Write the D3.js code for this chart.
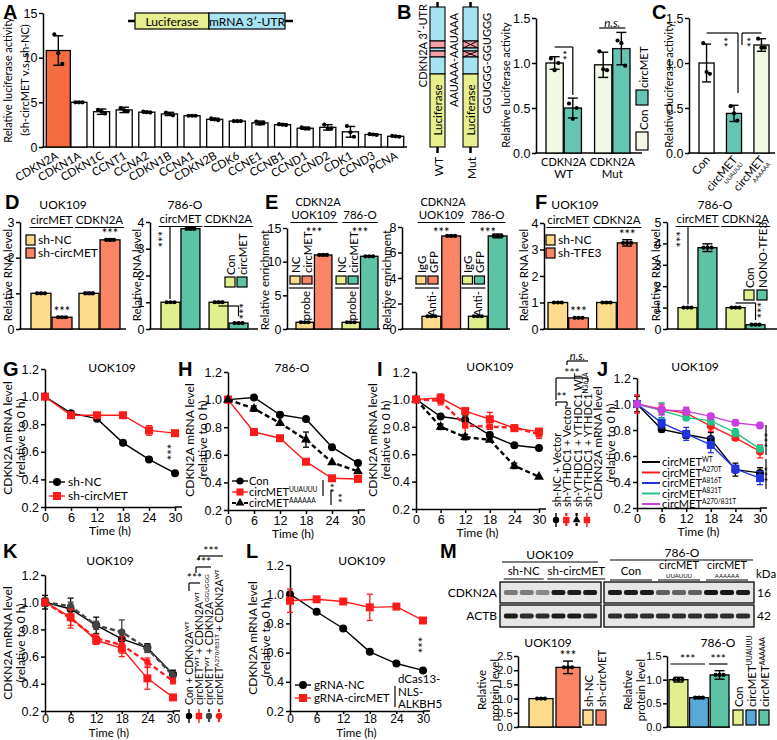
<!DOCTYPE html>
<html>
<head>
<meta charset="utf-8">
<script src="https://cdnjs.cloudflare.com/ajax/libs/d3/7.8.5/d3.min.js"></script>
<style>
body { margin: 0; background: #fff; }
svg { font-family: Lato, "Open Sans", sans-serif; }
</style>
</head>
<body>
<script>
// ---------- data ----------
const aGenes = ["CDKN2A","CDKN1A","CDKN1C","CCNT1","CCNA2","CDKN1B","CCNA1","CDKN2B","CDK6","CCNE1","CCNB1","CCND1","CCND2","CDK1","CCND3","PCNA"];
const aMeans = [10.8,5.0,3.95,4.15,3.9,3.7,3.5,3.1,2.9,2.7,2.5,2.1,2.2,1.7,1.4,1.2];
const aErr = [1.65,0.05,0.3,0.3,0.08,0.18,0.05,0.12,0.06,0.2,0.08,0.12,0.3,0.6,0.06,0.05];
const aReps = [[12.6,10.5,9.3],[5.0,5.0,5.0],[4.15,3.95,3.75],[4.35,4.1,4.0],[3.95,3.9,3.85],[3.85,3.7,3.55],[3.5,3.5,3.5],[3.2,3.1,3.0],[2.9,2.9,2.9],[2.85,2.6,2.7],[2.55,2.5,2.45],[2.2,2.05,2.05],[2.5,2.05,2.1],[2.35,1.65,1.15],[1.45,1.4,1.35],[1.25,1.2,1.15]];

const bGroups = ["WT","Mut"];
const bCon = [1.0,0.98], bConErr = [0.07,0.14], bConReps = [[1.05,0.92,1.0],[1.13,0.93,0.92]];
const bCirc = [0.5,1.16], bCircErr = [0.11,0.18], bCircReps = [[0.55,0.38,0.5],[1.25,1.22,0.97]];

const cLabels = ["Con","UUAUUU","AAAAAA"];
const cMeans = [1.0,0.44,1.2], cErr = [0.21,0.09,0.07];
const cReps = [[1.22,0.9,0.88],[0.52,0.44,0.36],[1.27,1.17,1.17]];

const dGroups = ["circMET","CDKN2A"];
const dShNC = [1.0,1.0], dShNCErr = [0.02,0.03];
const dShCirc = [0.33,2.5], dShCircErr = [0.02,0.03];
const dCon = [1.0,1.0], dConErr = [0.02,0.03];
const dCirc = [3.75,0.22], dCircErr = [0.04,0.02];

const eGroups = ["UOK109","786-O"];
const eNC = [1.0,1.0], eNCErr = [0.06,0.06];
const eCirc = [11.0,10.8], eCircErr = [0.12,0.08];
const eIgG = [1.0,1.0], eIgGErr = [0.05,0.04];
const eGFP = [7.3,7.3], eGFPErr = [0.05,0.15];

const fShNC = [1.0,1.0], fShNCErr = [0.02,0.02];
const fShTFE3 = [0.42,3.25], fShTFE3Err = [0.02,0.12];
const fCon = [1.0,1.0], fConErr = [0.02,0.03];
const fNONO = [3.8,0.2], fNONOErr = [0.18,0.02];

const times = [0,6,12,18,24,30];
const gNC = [1.0,0.88,0.84,0.665,0.545,0.445], gNCErr = [0,0.01,0.01,0.01,0.015,0.01];
const gCirc = [1.0,0.865,0.865,0.865,0.755,0.735], gCircErr = [0,0.015,0.01,0.01,0.035,0.015];

const hCon = [1.0,1.015,0.89,0.86,0.655,0.54], hConErr = [0,0.01,0.01,0.01,0.01,0.01];
const hUU = [1.0,0.765,0.72,0.55,0.43,0.425], hUUErr = [0,0.01,0.01,0.01,0.01,0.01];
const hAA = [1.0,0.935,0.83,0.71,0.545,0.48], hAAErr = [0,0.02,0.01,0.055,0.01,0.01];

const iNC = [1.0,0.875,0.85,0.74,0.665,0.645], iNCErr = [0.01,0.01,0.03,0.02,0.01,0.01];
const iYMut = [1.0,0.99,0.81,0.80,0.795,0.745], iYMutErr = [0.01,0.03,0.08,0.01,0.01,0.03];
const iShVec = [1.0,0.80,0.725,0.705,0.515,0.435], iShVecErr = [0.01,0.02,0.02,0.01,0.02,0.01];
const iYWT = [1.0,1.01,0.915,0.855,0.79,0.765], iYWTErr = [0.01,0.03,0.01,0.05,0.01,0.02];

const jWT = [1.0,0.805,0.765,0.73,0.495,0.47], jWTErr = [0.06,0.02,0.03,0.05,0.05,0.04];
const jA270 = [1.0,0.96,0.93,0.83,0.74,0.635], jA270Err = [0.07,0.04,0.04,0.04,0.02,0.05];
const jA816 = [1.0,0.855,0.77,0.685,0.50,0.43], jA816Err = [0.01,0.04,0.05,0.06,0.03,0.05];
const jA831 = [1.0,0.95,0.895,0.87,0.78,0.655], jA831Err = [0.01,0.06,0.02,0.03,0.03,0.02];
const jA270831 = [1.0,0.955,0.945,0.905,0.855,0.835], jA270831Err = [0.01,0.04,0.03,0.02,0.02,0.01];

const kCon = [1.0,0.95,0.83,0.73,0.665,0.47], kConErr = [0.05,0.08,0.06,0.05,0.03,0.03];
const kCirc = [1.0,0.89,0.72,0.66,0.44,0.30], kCircErr = [0.03,0.06,0.03,0.06,0.08,0.01];
const kGG = [1.0,0.97,0.83,0.78,0.66,0.46], kGGErr = [0.03,0.03,0.03,0.09,0.03,0.03];
const kA270 = [1.0,0.88,0.735,0.685,0.56,0.42], kA270Err = [0.02,0.07,0.03,0.06,0.03,0.02];

const lNC = [1.0,0.88,0.765,0.605,0.525,0.478], lNCErr = [0.01,0.01,0.01,0.01,0.01,0.01];
const lCirc = [0.955,0.965,0.95,0.91,0.915,0.82], lCircErr = [0.08,0.01,0.01,0.09,0.01,0.01];

const mUokLabels = ["sh-NC","sh-circMET"];
const mUok = [1.0,2.1], mUokErr = [0.02,0.22];
const m786Labels = ["Con","UUAUUU","AAAAAA"];
const m786 = [1.0,0.62,1.1], m786Err = [0.05,0.02,0.09];
const blotCdkn2aUok = [0.6,0.6,0.55,0.9,0.9,0.9];
const blotActbUok = [0.9,0.85,0.85,0.9,0.9,0.85];
const blotCdkn2a786 = [0.9,0.9,0.9,0.7,0.68,0.7,0.92,0.92,0.9];
const blotActb786 = [0.85,0.85,0.85,0.85,0.85,0.85,0.85,0.85,0.85];

// ---------- colours ----------
const cOrange = "#f36b3f", cShNC = "#fddb8c", cShCirc = "#fa8566", cCon = "#e2ef8e",
      cTeal = "#5ec2a5", cLight = "#f1f8e6", cTealB = "#66c4b3", cBlue = "#58a9d6",
      cLucY = "#e6ee8e", cUtr = "#a8e3f4", cPink = "#f6a0a8", RED = "#ff1a1a";

const svg = d3.select("body").append("svg").attr("width", 777).attr("height", 740);
svg.append("defs").append("filter").attr("id", "blur")
  .append("feGaussianBlur").attr("stdDeviation", 0.7);

const PL = {size: 20, bold: true, family: "'Liberation Sans', Arial, sans-serif"};
const FS = 11.5;   // general label size
const TS = 12;     // tick size

function T(x, y, s, o = {}) {
  const t = svg.append("text").attr("x", x).attr("y", y).text(s)
    .attr("font-size", o.size || FS).attr("text-anchor", o.anchor || "start");
  if (o.rot != null) t.attr("transform", `rotate(${o.rot},${x},${y})`);
  if (o.bold) t.attr("font-weight", "bold");
  if (o.italic) t.attr("font-style", "italic");
  if (o.family) t.attr("font-family", o.family);
  if (o.fill) t.attr("fill", o.fill);
  return t;
}
function rich(x, y, parts, o = {}) {
  const size = o.size || FS;
  const t = svg.append("text").attr("x", x).attr("y", y).attr("font-size", size)
    .attr("text-anchor", o.anchor || "start");
  if (o.rot != null) t.attr("transform", `rotate(${o.rot},${x},${y})`);
  let shift = 0;
  parts.forEach(p => {
    const sp = t.append("tspan");
    let target = 0;
    if (typeof p === "string") sp.text(p);
    else {
      sp.text(p.sup || p.sub).attr("font-size", size * 0.6);
      target = p.sup ? -size * 0.38 : size * 0.22;
    }
    if (target !== shift) sp.attr("dy", target - shift);
    shift = target;
  });
  return t;
}
function L(x1, y1, x2, y2, w = 1.3, c = "#000", dash = null) {
  return svg.append("line").attr("x1", x1).attr("y1", y1).attr("x2", x2).attr("y2", y2)
    .attr("stroke", c).attr("stroke-width", w).attr("stroke-dasharray", dash);
}
function R(x, y, w, h, fill, sw = 1.2) {
  return svg.append("rect").attr("x", x).attr("y", y).attr("width", w).attr("height", h)
    .attr("fill", fill).attr("stroke", "#000").attr("stroke-width", sw);
}
function styleAxis(g, size) {
  g.select(".domain").attr("stroke-width", 1.5);
  g.selectAll(".tick line").attr("stroke-width", 1.5);
  g.selectAll(".tick text").attr("font-size", size || TS).attr("font-family", null);
}
function yAxis(x0, y, ticks, fmt, xEnd, size) {
  const g = svg.append("g").attr("transform", `translate(${x0},0)`)
    .call(d3.axisLeft(y).tickValues(ticks).tickFormat(fmt).tickSize(4).tickSizeOuter(0).tickPadding(1.5));
  styleAxis(g, size);
  if (xEnd) L(x0 - 0.75, y(0), xEnd, y(0), 1.5);
  return g;
}
function drawBars(y, items) {
  items.forEach(d => R(d.x, y(d.v), d.w, y(0) - y(d.v), d.fill, 1.3));
  items.forEach(d => {
    const cx = d.x + d.w / 2, cw = Math.min(d.w * 0.3, 5);
    if (d.e) {
      L(cx, y(d.v - d.e), cx, y(d.v + d.e), 1.4);
      L(cx - cw, y(d.v + d.e), cx + cw, y(d.v + d.e), 1.4);
      L(cx - cw, y(d.v - d.e), cx + cw, y(d.v - d.e), 1.4);
    }
    const reps = d.reps || [d.v, d.v, d.v];
    const off = Math.min(d.w * 0.22, 4);
    reps.forEach((r, i) => svg.append("circle").attr("cx", cx + (i - 1) * off).attr("cy", y(r))
      .attr("r", 2.1).attr("fill", "#000"));
  });
}
function grouped(y, groups, vals, errs, fills, range, pi, reps) {
  const outer = d3.scaleBand().domain(groups).range(range).paddingInner(pi);
  const inner = d3.scaleBand().domain(d3.range(vals.length)).range([0, outer.bandwidth()]).paddingInner(0.05);
  const items = [];
  groups.forEach((g, gi) => vals.forEach((v, si) => items.push({
    x: outer(g) + inner(si), w: inner.bandwidth(), v: v[gi], e: errs[si][gi],
    fill: typeof fills === "function" ? fills(gi, si) : fills[si],
    reps: reps ? reps[si][gi] : null })));
  drawBars(y, items);
  items.forEach(d => d.cx = d.x + d.w / 2);
  return {items, center: g => outer(g) + outer.bandwidth() / 2};
}
function underlined(x, y, s, size = FS, ext = 2) {
  const t = T(x, y, s, {anchor: "middle", size});
  const w = t.node().getComputedTextLength();
  L(x - w / 2 - ext, y + 3.5, x + w / 2 + ext, y + 3.5, 1.2);
  return t;
}
function marker(cx, cy, type, color, s = 1) {
  if (type === "circle") svg.append("circle").attr("cx", cx).attr("cy", cy).attr("r", 4 * s).attr("fill", color);
  else if (type === "square") svg.append("rect").attr("x", cx - 4 * s).attr("y", cy - 4 * s)
    .attr("width", 8 * s).attr("height", 8 * s).attr("fill", color);
  else if (type === "tri") svg.append("path").attr("d", d3.symbol(d3.symbolTriangle, 42 * s * s)())
    .attr("transform", `translate(${cx},${cy})`).attr("fill", color);
}
function lineChart(o) {
  const x = d3.scaleLinear().domain([0, 30]).range([o.x0, o.x1]);
  const y = d3.scaleLinear().domain([0.2, 1.2]).range([o.yb, o.yt]);
  const gx = svg.append("g").attr("transform", `translate(0,${o.yb})`)
    .call(d3.axisBottom(x).tickValues(times).tickSize(o.ts || 4).tickSizeOuter(0).tickPadding(o.tp != null ? o.tp : 2));
  styleAxis(gx, o.tf || 12.5);
  L(o.x1, o.yb, o.x1 + 7, o.yb, 1.5);
  const gy = svg.append("g").attr("transform", `translate(${o.x0},0)`)
    .call(d3.axisLeft(y).tickValues([0.2,0.4,0.6,0.8,1.0,1.2]).tickFormat(d3.format(".1f"))
      .tickSize(4).tickSizeOuter(0).tickPadding(2));
  styleAxis(gy, 12.5);
  T((o.x0 + o.x1) / 2, o.yb + (o.tl || 28), "Time (h)", {anchor: "middle", size: o.tf ? 11.5 : 12});
  o.series.forEach(s => {
    const line = d3.line().x((d, i) => x(times[i])).y(d => y(d));
    svg.append("path").attr("d", line(s.v)).attr("fill", "none").attr("stroke", s.c)
      .attr("stroke-width", s.dash ? 2.4 : 1.4).attr("stroke-dasharray", s.dash ? "5,3" : null);
    s.v.forEach((v, i) => {
      const e = s.e[i];
      if (e > 0.012) {
        const cx = x(times[i]);
        L(cx, y(v - e), cx, y(v + e), 1.3, s.c);
        L(cx - 3, y(v + e), cx + 3, y(v + e), 1.3, s.c);
        L(cx - 3, y(v - e), cx + 3, y(v - e), 1.3, s.c);
      }
      marker(x(times[i]), y(v), s.m, s.c, s.ms || 1);
    });
  });
  return {x, y};
}
function yLabel2(x1, x2, yc, a, b, size = 12) {
  T(x1, yc, a, {rot: -90, anchor: "middle", size});
  if (b) T(x2, yc, b, {rot: -90, anchor: "middle", size});
}
function legendSwatch(x, y, series, size = 1) {
  L(x - 8, y, x + 8, y, series.dash ? 2.2 : 1.4, series.c, series.dash ? "4,2" : null);
  marker(x, y, series.m, series.c, size);
}
function vLegendSwatch(x, y, series, size = 0.8) {
  L(x, y - 7, x, y + 7, series.dash ? 2.2 : 1.4, series.c, series.dash ? "3,2" : null);
  marker(x, y, series.m, series.c, size);
}
function bracket(x1, x2, y, label, o = {}) {
  L(x1, y, x2, y, 1.2);
  if (o.left) L(x1, y, x1, y + o.left, 1.2);
  if (o.right) L(x2, y, x2, y + o.right, 1.2);
  if (label) T((x1 + x2) / 2, y - 1, label, {anchor: "middle", size: o.size || 12, italic: o.italic});
}

// ================= A =================
T(3, 19, "A", PL);
const yA = d3.scaleLinear().domain([0, 15]).range([147, 13]);
const xA = d3.scaleBand().domain(aGenes).range([45, 407]).paddingInner(0.29).paddingOuter(0.145);
yAxis(43, yA, [0, 5, 10, 15], d3.format("d"), 407, 12.5);
drawBars(yA, aGenes.map((g, i) => ({
  x: i === 0 ? xA(g) - 2 : xA(g), w: i === 0 ? xA.bandwidth() + 8 : xA.bandwidth(),
  v: aMeans[i], e: aErr[i], fill: i === 0 ? cOrange : "#fff", reps: aReps[i]})));
aGenes.forEach(g => T(xA(g) + xA.bandwidth() / 2 + 3, 158, g, {anchor: "end", rot: -30, size: 11.5}));
yLabel2(12, 29, 80, "Relative luciferase activity", "(sh-circMET v.s. sh-NC)", 11);
L(128, 21, 293, 21, 2.5);
R(135, 13, 74, 16, cLucY); T(172, 25.5, "Luciferase", {anchor: "middle", size: 12});
R(209, 13, 76, 16, cUtr); T(247, 25.5, "mRNA 3\u2032-UTR", {anchor: "middle", size: 12});

// ================= B =================
T(397, 19, "B", PL);
function construct(x, label, seq, mut) {
  const w = 15, cx = x + w / 2;
  L(cx, 2, cx, 7, 2.5); L(cx, 147, cx, 153, 2.5);
  const segs = [[7, 34, cUtr], [41, 7, cPink], [48, 3, cUtr], [51, 6, cPink], [57, 17, cUtr], [74, 73, cLucY]];
  segs.forEach(s => R(x, s[0], w, s[1], s[2], 1.1));
  if (mut) [[41, 48], [51, 57]].forEach(p => { L(x, p[0], x + w, p[1], 1); L(x, p[1], x + w, p[0], 1); });
  T(cx + 4, 110, "Luciferase", {rot: -90, anchor: "middle", size: 11.5});
  T(cx + 5, 157, label, {rot: -90, anchor: "end", size: 12});
  T(x + w + 13, 13, seq, {rot: -90, anchor: "end", size: 11});
}
construct(430, "WT", "AAUAAA-AAUAAA", false);
construct(463, "Mut", "GGUGGG-GGUGGG", true);
T(427, 4, "CDKN2A 3\u2032-UTR", {rot: -90, anchor: "end", size: 11});

const yB = d3.scaleLinear().domain([0, 1.5]).range([153, 18]);
yAxis(536, yB, [0, 0.5, 1, 1.5], d3.format(".1f"), 642, 12.5);
const gB = grouped(yB, bGroups, [bCon, bCirc], [bConErr, bCircErr], [cLight, cTealB], [546, 630], 0.27, [bConReps, bCircReps]);
bGroups.forEach(g => {
  T(gB.center(g), 166, "CDKN2A", {anchor: "middle", size: 11});
  T(gB.center(g), 178, g, {anchor: "middle", size: 11.5});
});
T(510, 85, "Relative luciferase activity", {rot: -90, anchor: "middle", size: 11});
bracket(gB.items[0].cx, gB.items[1].cx, 47, null, {right: 48});
T(gB.items[1].cx - 1, 50, "**", {rot: -90, anchor: "end", size: 12});
bracket(gB.items[2].cx - 4, gB.items[3].cx + 4, 28, "n.s.", {italic: true, size: 11.5});
R(636, 90, 12, 15, cTealB); T(648, 88, "circMET", {rot: -90, size: 11.5});
R(636, 132, 12, 18, cLight); T(648, 130, "Con", {rot: -90, size: 11.5});

// ================= C =================
T(652, 19, "C", PL);
const yC = d3.scaleLinear().domain([0, 1.5]).range([153, 18]);
yAxis(689, yC, [0, 0.5, 1, 1.5], d3.format(".1f"), 775, 12.5);
const xC = d3.scaleBand().domain(cLabels).range([699, 769]).paddingInner(0.45);
const cFills = ["#fff", cTealB, cLight];
drawBars(yC, cLabels.map((c, i) => ({x: xC(c), w: xC.bandwidth(), v: cMeans[i], e: cErr[i], fill: cFills[i], reps: cReps[i]})));
T(673, 85, "Relative luciferase activity", {rot: -90, anchor: "middle", size: 11});
cLabels.forEach((c, i) => {
  const cx = xC(c) + xC.bandwidth() / 2 + 4;
  if (i === 0) T(cx, 160, "Con", {anchor: "end", rot: -50, size: 11.5});
  else {
    T(cx, 160, "circMET", {anchor: "end", rot: -50, size: 11.5});
    T(cx + 5.4, 164.5, c, {anchor: "end", rot: -50, size: 6});
  }
});
const cxC = cLabels.map(c => xC(c) + xC.bandwidth() / 2);
bracket(cxC[0], cxC[1] + 4, 33, null, {right: 60});
T(cxC[1] - 1, 37, "**", {rot: -90, anchor: "end", size: 12});
bracket(cxC[1] + 8, cxC[2], 33, null, {left: 12});
T(cxC[2] - 5, 37, "**", {rot: -90, anchor: "end", size: 12});

// ================= D =================
T(5, 209, "D", PL);
T(63, 209, "UOK109", {anchor: "middle", size: 12});
const yD1 = d3.scaleLinear().domain([0, 3]).range([329, 222]);
yAxis(20, yD1, [0, 1, 2, 3], d3.format("d"), 126, 12.5);
const gD1 = grouped(yD1, dGroups, [dShNC, dShCirc], [dShNCErr, dShCircErr], [cShNC, cShCirc], [31, 120], 0.146);
dGroups.forEach(g => underlined(gD1.center(g), 224, g, 11.5, 1));
T(gD1.items[1].cx, yD1(0.35) - 1, "***", {anchor: "middle", size: 13});
T(gD1.items[3].cx, yD1(2.53) - 1, "***", {anchor: "middle", size: 13});
R(26, 235, 9, 10, cShNC); T(38, 244, "sh-NC", {size: 12});
R(26, 248, 9, 10, cShCirc); T(38, 257, "sh-circMET", {size: 12});
T(12, 275, "Relative RNA level", {rot: -90, anchor: "middle", size: 11.5});

T(185, 209, "786-O", {anchor: "middle", size: 12});
const yD2 = d3.scaleLinear().domain([0, 4]).range([329, 222]);
yAxis(150, yD2, [0, 1, 2, 3, 4], d3.format("d"), 258, 12.5);
const gD2 = grouped(yD2, dGroups, [dCon, dCirc], [dConErr, dCircErr], [cCon, cTeal], [161, 248], 0.19);
dGroups.forEach(g => underlined(gD2.center(g), 223, g, 11.5, 1));
L(170, 227, 170, yD2(1.05) - 2, 1.2);
T(168, 231, "***", {rot: -90, anchor: "end", size: 13});
bracket(gD2.items[2].cx, gD2.items[3].cx, 306, null, {right: 10});
T(249, 303, "***", {rot: -90, anchor: "end", size: 13});
R(225, 277, 10, 10, cCon); R(237, 277, 10, 10, cTeal);
T(235, 275, "Con", {rot: -90, size: 11.5}); T(247, 275, "circMET", {rot: -90, size: 11.5});
T(141, 275, "Relative RNA level", {rot: -90, anchor: "middle", size: 11.5});

// ================= E =================
T(265, 209, "E", PL);
function probeLegend(bar, labels, below, fills) {
  const x1 = bar.x - 6, x2 = bar.x + 6;
  R(x1, 276, 10, 8, fills[0]); R(x2, 276, 10, 8, fills[1]);
  T(x1 + 10, 273, labels[0], {rot: -90, size: 11.5});
  T(x2 + 10, 273, labels[1], {rot: -90, size: 11.5});
  L(x1 - 1, 288, x2 + 11, 288, 1.2);
  T(bar.x + 14, 291, below, {rot: -90, anchor: "end", size: 11.5});
}
const eFills = (gi, si) => gi === 0 ? [cShNC, cShCirc][si] : [cCon, cTeal][si];
T(318, 206, "CDKN2A", {anchor: "middle", size: 11});
const yE1 = d3.scaleLinear().domain([0, 15]).range([329, 228]);
yAxis(287, yE1, [0, 5, 10, 15], d3.format("d"), 380, 12.5);
const gE1 = grouped(yE1, eGroups, [eNC, eCirc], [eNCErr, eCircErr], eFills, [296, 378], 0.22);
eGroups.forEach(g => { underlined(gE1.center(g), 219, g, 11.5, 1); T(gE1.center(g), 237, "***", {anchor: "middle", size: 13}); });
probeLegend(gE1.items[0], ["NC", "circMET"], "probe", [cShNC, cShCirc]);
probeLegend(gE1.items[2], ["NC", "circMET"], "probe", [cCon, cTeal]);
T(269, 280, "Relative enrichment", {rot: -90, anchor: "middle", size: 11.5});

T(443, 206, "CDKN2A", {anchor: "middle", size: 11});
const yE2 = d3.scaleLinear().domain([0, 8]).range([329, 227]);
yAxis(402, yE2, [0, 2, 4, 6, 8], d3.format("d"), 510, 12.5);
const gE2 = grouped(yE2, eGroups, [eIgG, eGFP], [eIgGErr, eGFPErr], eFills, [422, 507], 0.17);
eGroups.forEach(g => { underlined(gE2.center(g), 219, g, 11.5, 1); T(gE2.center(g), 237, "***", {anchor: "middle", size: 13}); });
probeLegend(gE2.items[0], ["IgG", "GFP"], "Anti-", [cShNC, cShCirc]);
probeLegend(gE2.items[2], ["IgG", "GFP"], "Anti-", [cCon, cTeal]);
T(391, 280, "Relative enrichment", {rot: -90, anchor: "middle", size: 11.5});

// ================= F =================
T(535, 209, "F", PL);
T(575, 209, "UOK109", {anchor: "middle", size: 12});
const yF1 = d3.scaleLinear().domain([0, 4]).range([329, 223]);
yAxis(544, yF1, [0, 1, 2, 3, 4], d3.format("d"), 645, 12.5);
const gF1 = grouped(yF1, dGroups, [fShNC, fShTFE3], [fShNCErr, fShTFE3Err], [cShNC, cShCirc], [548, 637], 0.17);
dGroups.forEach(g => underlined(gF1.center(g), 224, g, 11.5, 1));
T(gF1.items[1].cx, yF1(0.44) - 1, "***", {anchor: "middle", size: 13});
T(gF1.items[3].cx, yF1(3.37) - 1, "***", {anchor: "middle", size: 13});
R(546, 235, 9, 10, cShNC); T(558, 244, "sh-NC", {size: 12});
R(546, 248, 9, 10, cShCirc); T(558, 257, "sh-TFE3", {size: 12});
T(528, 275, "Relative RNA level", {rot: -90, anchor: "middle", size: 11.5});

T(715, 209, "786-O", {anchor: "middle", size: 12});
const yF2 = d3.scaleLinear().domain([0, 5]).range([329, 222]);
yAxis(667, yF2, [0, 1, 2, 3, 4, 5], d3.format("d"), 777, 12.5);
const gF2 = grouped(yF2, dGroups, [fCon, fNONO], [fConErr, fNONOErr], [cCon, cTeal], [678, 765], 0.19);
dGroups.forEach(g => underlined(gF2.center(g), 223, g, 11.5, 1));
L(688, 227, 688, yF2(1.05) - 2, 1.2);
T(686, 231, "***", {rot: -90, anchor: "end", size: 13});
bracket(gF2.items[2].cx, gF2.items[3].cx, 303, null, {right: 17});
T(767, 302, "***", {rot: -90, anchor: "end", size: 13});
R(744, 290, 10, 10, cCon); R(757, 290, 10, 10, cTeal);
T(754, 288, "Con", {rot: -90, size: 11.5}); T(767, 288, "NONO-TFE3", {rot: -90, size: 11.5});
T(660, 275, "Relative RNA level", {rot: -90, anchor: "middle", size: 11.5});

// ================= G =================
T(3, 376, "G", PL);
T(112, 372, "UOK109", {anchor: "middle", size: 12});
const gS = [{v: gNC, e: gNCErr, c: "#000", m: "circle"}, {v: gCirc, e: gCircErr, c: RED, m: "square"}];
lineChart({x0: 45, x1: 175, yb: 507, yt: 369, series: gS});
yLabel2(12, 25, 438, "CDKN2A mRNA level", "(relative to 0 h)");
legendSwatch(57, 482, gS[0]); T(68, 486, "sh-NC", {size: 12});
legendSwatch(57, 496, gS[1]); T(68, 500, "sh-circMET", {size: 12});
T(177, 452, "***", {rot: -90, anchor: "middle", size: 13});

// ================= H =================
T(178, 376, "H", PL);
T(292, 372, "786-O", {anchor: "middle", size: 12});
const hS = [{v: hCon, e: hConErr, c: "#000", m: "circle"},
            {v: hUU, e: hUUErr, c: RED, m: "square"},
            {v: hAA, e: hAAErr, c: "#000", m: "tri", dash: true}];
lineChart({x0: 228, x1: 358, yb: 510, yt: 372, series: hS});
yLabel2(194, 207, 440, "CDKN2A mRNA level", "(relative to 0 h)");
legendSwatch(240, 481, hS[0], 0.9); T(249, 485, "Con", {size: 11});
legendSwatch(240, 492, hS[1], 0.9); rich(249, 496, ["circMET", {sup: "UUAUUU"}], {size: 11});
legendSwatch(240, 503, hS[2], 0.9); rich(249, 507, ["circMET", {sup: "AAAAAA"}], {size: 11});
L(323, 480, 323, 496, 1.2); T(325, 488, "**", {rot: 90, anchor: "middle", size: 12});
L(331, 490, 331, 505, 1.2); T(333, 498, "**", {rot: 90, anchor: "middle", size: 12});

// ================= I =================
T(377, 376, "I", PL);
T(490, 371, "UOK109", {anchor: "middle", size: 12});
const iS = [{v: iNC, e: iNCErr, c: "#000", m: "circle"},
            {v: iYMut, e: iYMutErr, c: RED, m: "square", dash: true, ms: 0.8},
            {v: iShVec, e: iShVecErr, c: "#000", m: "tri", dash: true},
            {v: iYWT, e: iYWTErr, c: RED, m: "square"}];
lineChart({x0: 416, x1: 539, yb: 509, yt: 372, series: iS});
yLabel2(377, 390, 440, "CDKN2A mRNA level", "(relative to 0 h)");
const iLeg = [["sh-NC + Vector"], ["sh-YTHDC1 + Vector"], ["sh-YTHDC1 + YTHDC1 WT"], ["sh-YTHDC1 + YTHDC1", {sup: "N367A"}]];
iLeg.forEach((p, k) => {
  rich(561 + k * 10.3, 507, p, {rot: -90, size: 11});
  vLegendSwatch(556 + k * 10.3, 520, iS[k]);
});
bracket(556, 567, 402, "**", {left: 4, right: 4});
bracket(556, 588, 378, "***", {left: 22, right: 4});
bracket(567, 588, 361, "n.s.", {italic: true, left: 4, size: 11});

// ================= J =================
T(597, 376, "J", PL);
T(695, 371, "UOK109", {anchor: "middle", size: 12});
const jS = [{v: jWT, e: jWTErr, c: "#000", m: "circle"},
            {v: jA270, e: jA270Err, c: RED, m: "circle"},
            {v: jA816, e: jA816Err, c: "#2233dd", m: "square"},
            {v: jA831, e: jA831Err, c: "#22c48a", m: "circle"},
            {v: jA270831, e: jA270831Err, c: "#c83ee0", m: "circle"}];
lineChart({x0: 637, x1: 760, yb: 508, yt: 378, series: jS});
yLabel2(602, 615, 443, "CDKN2A mRNA level", "(relative to 0 h)");
const jLeg = ["WT", "A270T", "A816T", "A831T", "A270/831T"];
jLeg.forEach((s, k) => {
  L(642, 462 + k * 10.5, 660, 462 + k * 10.5, 2, jS[k].c);
  rich(662, 466 + k * 10.5, ["circMET", {sup: s}], {size: 11});
});
L(766, 425, 766, 455, 1.2); T(773, 440, "***", {rot: -90, anchor: "middle", size: 12});
L(766, 459, 766, 489, 1.2); T(773, 474, "***", {rot: -90, anchor: "middle", size: 12});

// ================= K =================
T(3, 558, "K", PL);
T(110, 565, "UOK109", {anchor: "middle", size: 12});
const kS = [{v: kCon, e: kConErr, c: "#000", m: "circle"},
            {v: kCirc, e: kCircErr, c: RED, m: "square"},
            {v: kGG, e: kGGErr, c: "#444", m: "circle", dash: true, ms: 0.9},
            {v: kA270, e: kA270Err, c: RED, m: "circle", dash: true, ms: 0.8}];
lineChart({x0: 45, x1: 173, yb: 711, yt: 575, series: kS, tl: 26, ts: 3, tp: 0, tf: 12});
yLabel2(12, 25, 643, "CDKN2A mRNA level", "(relative to 0 h)");
const kLeg = [["Con + CDKN2A", {sup: "WT"}],
              ["circMET", {sup: "WT"}, " + CDKN2A", {sup: "WT"}],
              ["circMET", {sup: "WT"}, " + CDKN2A", {sup: "GGUGGG"}],
              ["circMET", {sup: "A270/831T"}, " + CDKN2A", {sup: "WT"}]];
kLeg.forEach((p, k) => {
  rich(193 + k * 10, 705, p, {rot: -90, size: 10.5});
  vLegendSwatch(189 + k * 10, 716, kS[k]);
});
bracket(189, 200, 583, "***", {left: 8});
bracket(196, 211, 567, "***", {left: 6});
bracket(199, 223, 556, "***", {left: 4});

// ================= L =================
T(246, 558, "L", PL);
T(362, 565, "UOK109", {anchor: "middle", size: 12});
const lS = [{v: lNC, e: lNCErr, c: "#000", m: "circle"}, {v: lCirc, e: lCircErr, c: RED, m: "square"}];
lineChart({x0: 290, x1: 423, yb: 711, yt: 565, series: lS, tl: 26, ts: 3, tp: 0, tf: 12});
yLabel2(257, 270, 638, "CDKN2A mRNA level", "(relative to 0 h)");
legendSwatch(303, 685, lS[0]); T(314, 689, "gRNA-NC", {size: 11.5});
legendSwatch(303, 698, lS[1]); T(314, 702, "gRNA-circMET", {size: 11.5});
L(395, 686, 395, 707, 1.2);
T(398, 683, "dCas13-", {size: 11.5}); T(398, 696, "NLS-", {size: 11.5}); T(398, 708, "ALKBH5", {size: 11.5});
T(428, 645, "***", {rot: -90, anchor: "middle", size: 13});

// ================= M =================
T(440, 558, "M", PL);
const laneL = d3.scaleBand().domain(d3.range(6)).range([502, 599]).padding(0.12);
const laneR = d3.scaleBand().domain(d3.range(9)).range([606, 752]).padding(0.12);
function blotRow(lanes, vals, x0, x1, yTop, h) {
  svg.append("rect").attr("x", x0).attr("y", yTop).attr("width", x1 - x0).attr("height", h)
    .attr("fill", "#e6e6e6").attr("stroke", "#000").attr("stroke-width", 1.3);
  vals.forEach((v, i) => svg.append("rect").attr("x", lanes(i)).attr("y", yTop + h / 2 - 2.6)
    .attr("width", lanes.bandwidth()).attr("height", 5.2).attr("rx", 2)
    .attr("fill", d3.interpolateGreys(v)).attr("filter", "url(#blur)"));
}
blotRow(laneL, blotCdkn2aUok, 500, 601, 582, 21);
blotRow(laneL, blotActbUok, 500, 601, 605, 22);
blotRow(laneR, blotCdkn2a786, 604, 754, 582, 21);
blotRow(laneR, blotActb786, 604, 754, 605, 22);
T(497, 597, "CDKN2A", {anchor: "end", size: 12});
T(497, 620, "ACTB", {anchor: "end", size: 12});
T(756, 578, "kDa", {size: 11.5}); T(757, 597, "16", {size: 12}); T(757, 620, "42", {size: 12});
const groupMid = (lanes, k) => (lanes(k * 3) + lanes(k * 3 + 2) + lanes.bandwidth()) / 2;
T(550, 559, "UOK109", {anchor: "middle", size: 12}); L(502, 562, 598, 562, 1.2);
T(682, 557, "786-O", {anchor: "middle", size: 12}); L(610, 560, 753, 560, 1.2);
mUokLabels.forEach((s, k) => {
  const cx = groupMid(laneL, k) + (k === 0 ? -3 : 2);
  T(cx, 575, s, {anchor: "middle", size: 11.5});
  L(cx - (k ? 29 : 20), 579, cx + (k ? 29 : 20), 579, 1.2);
});
m786Labels.forEach((s, k) => {
  const cx = groupMid(laneR, k);
  if (k === 0) T(cx, 575, "Con", {anchor: "middle", size: 11.5});
  else { T(cx, 569, "circMET", {anchor: "middle", size: 11}); T(cx, 577.5, s, {anchor: "middle", size: 6}); }
  L(cx - 21, 580, cx + 21, 580, 1.2);
});

T(548, 647, "UOK109", {anchor: "middle", size: 12});
const yM1 = d3.scaleLinear().domain([0, 2.5]).range([727, 656]);
yAxis(518, yM1, [0, 0.5, 1, 1.5, 2, 2.5], d3.format(".1f"), 582, 11);
const xM1 = d3.scaleBand().domain(mUokLabels).range([529, 580]).paddingInner(0.11);
drawBars(yM1, mUokLabels.map((s, i) => ({x: xM1(s), w: xM1.bandwidth(), v: mUok[i], e: mUokErr[i], fill: [cShNC, cShCirc][i]})));
T(xM1("sh-circMET") + xM1.bandwidth() / 2, yM1(2.32) - 1, "***", {anchor: "middle", size: 13});
mUokLabels.forEach((s, i) => {
  R(583 + i * 13, 710, 10, 15, [cShNC, cShCirc][i]);
  T(593 + i * 13, 707, s, {rot: -90, size: 11.5});
});
yLabel2(486, 499, 690, "Relative", "protein level", 11.5);

T(718, 647, "786-O", {anchor: "middle", size: 12});
const yM2 = d3.scaleLinear().domain([0, 1.5]).range([727, 656]);
yAxis(667, yM2, [0, 0.5, 1, 1.5], d3.format(".1f"), 730, 11);
const xM2 = d3.scaleBand().domain(m786Labels).range([669, 729]).paddingInner(0.08);
const m786Fills = [cCon, cBlue, cTeal];
drawBars(yM2, m786Labels.map((s, i) => ({x: xM2(s), w: xM2.bandwidth(), v: m786[i], e: m786Err[i], fill: m786Fills[i]})));
const mcx = m786Labels.map(s => xM2(s) + xM2.bandwidth() / 2);
bracket(mcx[0] - 8, mcx[1] + 6, 664, "***");
bracket(mcx[1] + 10, mcx[2] + 8, 664, "***");
m786Labels.forEach((s, i) => {
  R(733 + i * 13, 710, 10, 15, m786Fills[i]);
  if (i === 0) T(743, 707, "Con", {rot: -90, size: 11.5});
  else rich(743 + i * 13, 707, ["circMET", {sup: s}], {rot: -90, size: 11.5});
});
yLabel2(632, 645, 690, "Relative", "protein level", 11.5);
</script>
</body>
</html>
